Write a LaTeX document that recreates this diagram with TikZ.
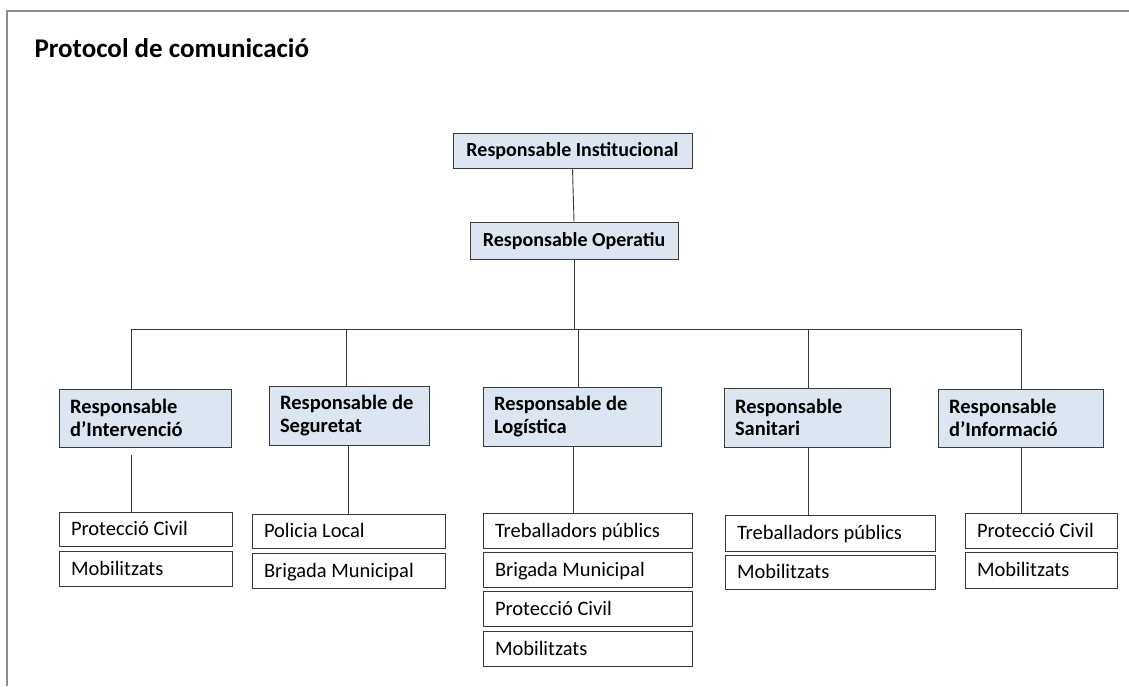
\documentclass[tikz,border=0pt]{standalone}
\usepackage{fontspec}
\setmainfont{Carlito}
\definecolor{boxfill}{HTML}{DCE6F2}
\definecolor{boxline}{HTML}{3A3A3A}
\definecolor{frameline}{HTML}{8C8C8C}
\begin{document}
\begin{tikzpicture}[x=1pt,y=-1pt,
  conn/.style={draw=boxline, line width=0.9pt},
  headbox/.style={draw=boxline, fill=boxfill, line width=0.9pt, inner sep=0pt,
    text height=16pt, text depth=5pt,
    font=\bfseries\fontsize{20}{24}\selectfont},
  midbox/.style={draw=boxline, fill=boxfill, line width=0.9pt, inner ysep=0pt, inner xsep=11pt,
    align=flush left, font=\bfseries\fontsize{20.5}{22.5}\selectfont},
  leafbox/.style={draw=boxline, fill=white, line width=0.9pt, inner ysep=0pt, inner xsep=12pt,
    text height=18pt, text depth=4.4pt,
    align=flush left, font=\fontsize{20.5}{24}\selectfont}
]
\useasboundingbox (0,0) rectangle (1129,686);
\fill[white] (0,0) rectangle (1129,686);
\draw[frameline, line width=2.2pt] (7,686) -- (7,11) -- (1129,11);

\node[anchor=base west, font=\bfseries\fontsize{27}{31}\selectfont] (title) at (31,57) {Protocol de comunicació};

% top levels
\node[headbox, minimum width=239, minimum height=35] (ri) at (572.5,150.5) {Responsable Institucional};
\node[headbox, minimum width=208, minimum height=37] (ro) at (574,240.5) {Responsable Operatiu};

% level 2
\node[midbox, text width=150, minimum height=58] (r1) at (145,418) {Responsable\\d’Intervenció};
\node[midbox, text width=138, minimum height=59] (r2) at (349,415.5) {Responsable de\\Seguretat};
\node[midbox, text width=156, minimum height=59] (r3) at (572,416.5) {Responsable de\\Logística};
\node[midbox, text width=144, minimum height=59] (r4) at (807,417.5) {Responsable\\Sanitari};
\node[midbox, text width=143, minimum height=58] (r5) at (1020.5,418) {Responsable\\d’Informació};

% leaves
\node[leafbox, text width=149, minimum height=34] (l1a) at (145.5,529) {Protecció Civil};
\node[leafbox, text width=149, minimum height=35] (l1b) at (145.5,568.5) {Mobilitzats};

\node[leafbox, text width=169, minimum height=34] (l2a) at (348.5,531) {Policia Local};
\node[leafbox, text width=169, minimum height=35] (l2b) at (348.5,570.5) {Brigada Municipal};

\node[leafbox, text width=185, minimum height=35] (l3a) at (587.5,530.5) {Treballadors públics};
\node[leafbox, text width=185, minimum height=35] (l3b) at (587.5,569.5) {Brigada Municipal};
\node[leafbox, text width=185, minimum height=35] (l3c) at (587.5,608.5) {Protecció Civil};
\node[leafbox, text width=185, minimum height=35] (l3d) at (587.5,648.5) {Mobilitzats};

\node[leafbox, text width=186, minimum height=36] (l4a) at (830,533) {Treballadors públics};
\node[leafbox, text width=186, minimum height=34] (l4b) at (830,572) {Mobilitzats};

\node[leafbox, text width=128, minimum height=35] (l5a) at (1041,530.5) {Protecció Civil};
\node[leafbox, text width=128, minimum height=36] (l5b) at (1041,570) {Mobilitzats};

% connectors
\draw[conn] (ri.south) -- (ro.north);
\coordinate (bus) at (575,329);
\coordinate (d1) at (131,329);
\coordinate (d2) at (346,329);
\coordinate (d3) at (578,329);
\coordinate (d4) at (808,329);
\coordinate (d5) at (1021,329);
\draw[conn] (ro.south) -- (ro.south |- bus);
\draw[conn] (d1) -- (d5);
\draw[conn] (d1) -- (d1 |- r1.north);
\draw[conn] (d2) -- (d2 |- r2.north);
\draw[conn] (d3) -- (d3 |- r3.north);
\draw[conn] (d4) -- (d4 |- r4.north);
\draw[conn] (d5) -- (d5 |- r5.north);

\coordinate (e1) at (131,455);
\coordinate (e2) at (348,455);
\coordinate (e3) at (573,455);
\coordinate (e4) at (808,455);
\coordinate (e5) at (1021,455);
\draw[conn] (e1) -- (e1 |- l1a.north);
\draw[conn] (e2 |- r2.south) -- (e2 |- l2a.north);
\draw[conn] (e3 |- r3.south) -- (e3 |- l3a.north);
\draw[conn] (e4 |- r4.south) -- (e4 |- l4a.north);
\draw[conn] (e5 |- r5.south) -- (e5 |- l5a.north);
\end{tikzpicture}
\end{document}
